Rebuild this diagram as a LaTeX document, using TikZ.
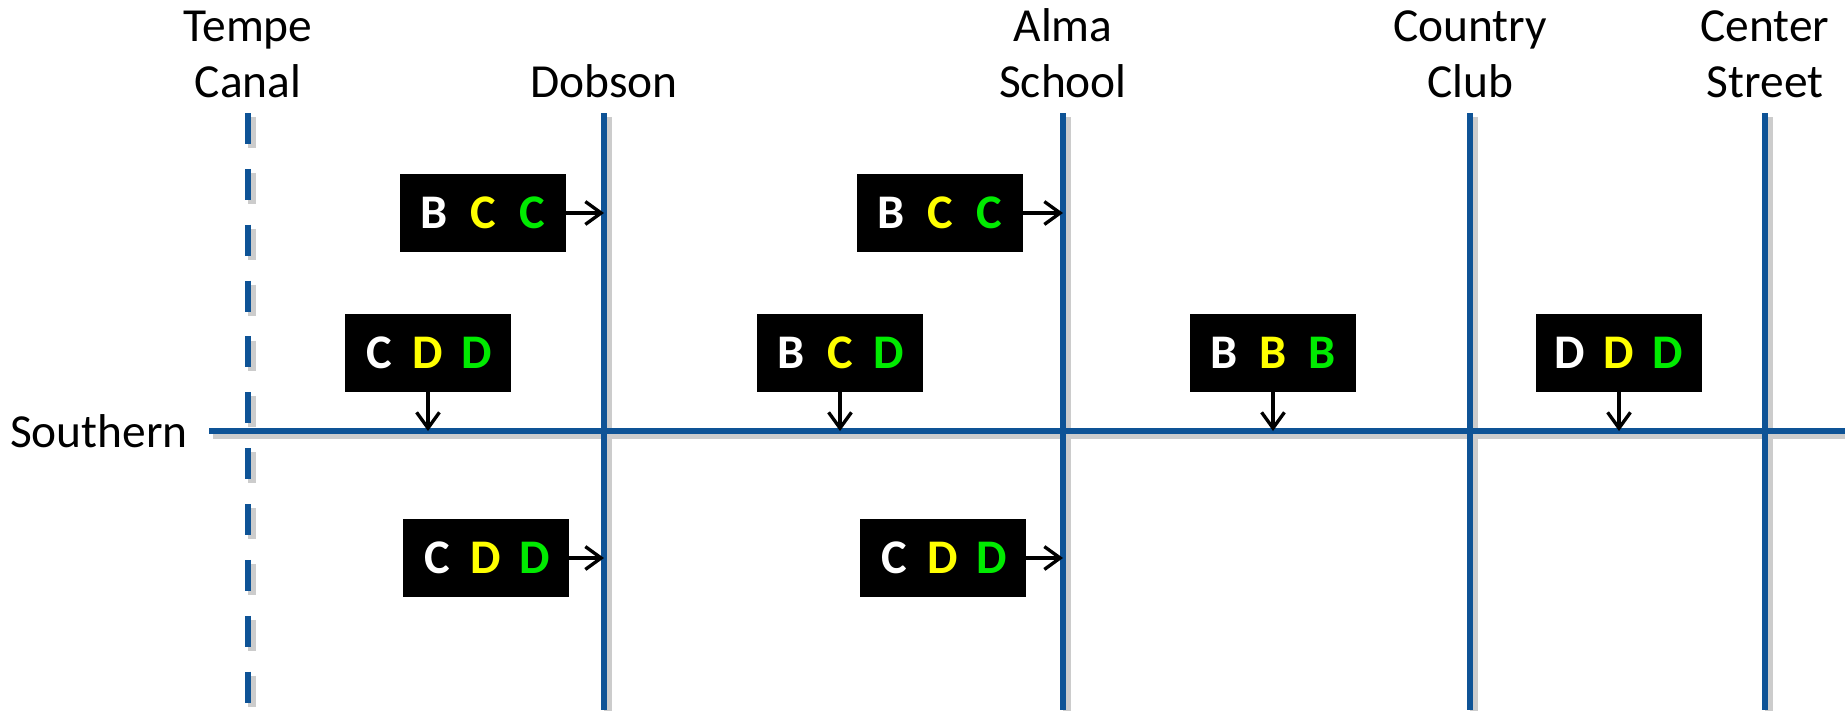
\documentclass[tikz,border=0pt]{standalone}
\usepackage{fontspec}
\setmainfont{Carlito}
\usetikzlibrary{arrows.meta,positioning}
\definecolor{roadblue}{RGB}{14,83,150}
\definecolor{sigyellow}{RGB}{255,255,0}
\definecolor{siggreen}{RGB}{0,235,0}
\newcommand{\sig}[3]{\makebox[28pt]{\color{white}#1}\makebox[28pt]{\color{sigyellow}#2}\makebox[28pt]{\color{siggreen}#3}}
\tikzset{
  road/.style={line width=3.8pt, color=roadblue},
  roadshadow/.style={line width=5pt, color=black!20, transform canvas={xshift=2.3pt, yshift=-2.3pt}},
  canal/.style={dash pattern=on 17.6pt off 14.2pt},
  signal/.style={fill=black, minimum width=3.32cm, minimum height=1.56cm, inner sep=0pt,
    font=\fontsize{27.5}{32}\selectfont\bfseries},
  street/.style={font=\fontsize{27}{31.5}\selectfont, align=center, anchor=south, inner sep=0pt},
  feed/.style={-{Straight Barb[length=9pt,width=13pt]}, line width=1.9pt}
}
\begin{document}
\begin{tikzpicture}[x=0.02cm, y=-0.02cm]
\useasboundingbox (0,0) rectangle (1845,710);
% cross streets and Southern
\foreach \n/\x in {tempe/248, dobson/604, alma/1063, country/1470, center/1765} {
  \coordinate (\n-t) at (\x,113);
  \coordinate (\n-b) at (\x,710);
}
\coordinate (south-w) at (209,431);
\coordinate (south-e) at (1845,431);

\draw[roadshadow, canal] (tempe-t) -- (tempe-b);
\foreach \n in {dobson, alma, country, center}
  \draw[roadshadow] (\n-t) -- (\n-b);
\draw[roadshadow] (south-w) -- (south-e);

\draw[road, canal] (tempe-t) -- (tempe-b);
\foreach \n in {dobson, alma, country, center}
  \draw[road] (\n-t) -- (\n-b);
\draw[road] (south-w) -- (south-e);

% street names
\node[street] (tempe-l) at (248,98) {Tempe\\Canal};
\node[street] (dobson-l) at (604,98) {Dobson};
\node[street] (alma-l) at (1063,98) {Alma\\School};
\node[street] (country-l) at (1470,98) {Country\\Club};
\node[street] (center-l) at (1765,98) {Center\\Street};
\node[anchor=east, inner sep=0pt, font=\fontsize{27}{31.5}\selectfont] (southern) at (188,431) {Southern};

% signals northbound
\node[signal] (nb1) at (483,213) {\sig BCC};
\node[signal] (nb2) at (940,213) {\sig BCC};
\draw[feed] (nb1.east) -- (nb1.east -| dobson-t);
\draw[feed] (nb2.east) -- (nb2.east -| alma-t);

% signals on Southern
\node[signal] (sb1) at (428,353) {\sig CDD};
\node[signal] (sb2) at (840,353) {\sig BCD};
\node[signal] (sb3) at (1273,353) {\sig BBB};
\node[signal] (sb4) at (1619,353) {\sig DDD};
\foreach \s in {sb1, sb2, sb3, sb4}
  \draw[feed] (\s.south) -- (\s.south |- south-w);

% signals southbound
\node[signal] (lb1) at (486,558) {\sig CDD};
\node[signal] (lb2) at (943,558) {\sig CDD};
\draw[feed] (lb1.east) -- (lb1.east -| dobson-t);
\draw[feed] (lb2.east) -- (lb2.east -| alma-t);
\end{tikzpicture}
\end{document}
